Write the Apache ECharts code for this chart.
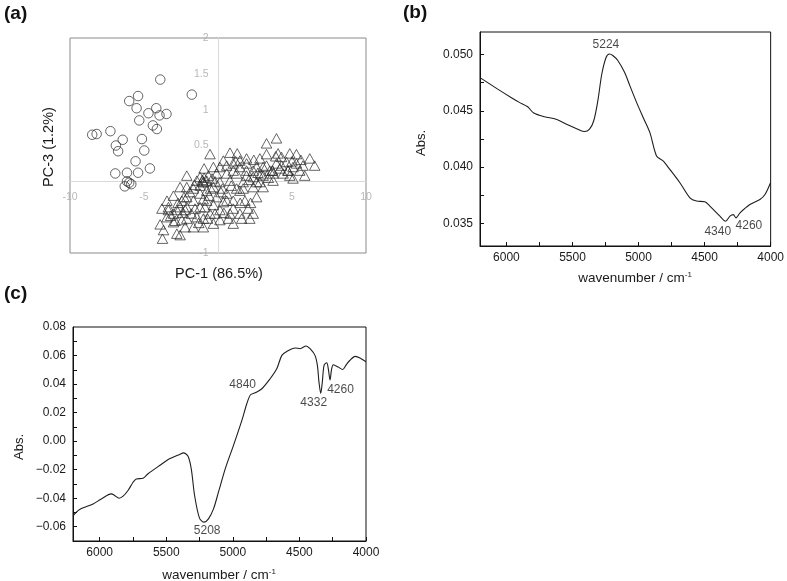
<!DOCTYPE html>
<html><head><meta charset="utf-8">
<script src="https://cdn.jsdelivr.net/npm/echarts@6/dist/echarts.min.js"></script>
<style>html,body{margin:0;padding:0;background:#fff}#c{width:787px;height:581px}</style>
</head><body><div id="c"></div>
<script>
// ---------- Panel (a): PCA scores ----------
const circleX = [-3.9,-1.77,-6.0,-5.4,-5.5,-4.7,-4.17,-3.95,-3.48,-5.32,-4.4,-4.13,-8.5,-8.2,-7.27,-6.44,-5.14,-6.9,-6.75,-4.98,-5.57,-4.6,-6.94,-6.15,-5.4,-6.15,-6.0,-5.86,-6.3];
const circleY = [1.42,1.21,1.12,1.19,1.02,0.95,1.02,0.92,0.94,0.85,0.78,0.73,0.65,0.66,0.70,0.58,0.59,0.50,0.42,0.43,0.28,0.18,0.11,0.12,0.12,0.0,-0.02,-0.04,-0.07];
const triX = [3.95,3.28,-0.54,0.81,1.30,1.93,2.42,3.28,4.06,4.29,4.85,5.30,6.20,6.53,5.74,5.30,3.68,4.73,5.86,5.07,4.40,3.05,2.61,1.93,1.48,1.03,0.59,0.13,-0.31,-0.94,-1.21,-2.11,-0.99,-0.76,-2.56,-3.01,-3.45,-3.79,-3.35,-3.91,-3.68,-3.75,-2.78,-2.56,-3.01,-2.44,-2.22,-1.66,-1.43,-0.99,-0.54,0.13,0.70,1.48,2.15,2.04,1.03,1.82,2.61,3.05,2.38,1.48,0.59,-0.09,-0.76,-1.21,-2.11,-2.11,-2.78,-3.01,-1.55,-0.31,0.36,1.03,1.26,0.81,0.13,-0.09,0.59,1.26,1.93,2.38,1.70,2.61,3.72,3.28,3.95,4.63,2.83,1.48,0.36,-1.21,-1.66,-2.11,-0.76,-0.31,-2.44,-2.56,-3.45,-2.22,-1.66,-0.99,-0.31,0.13,1.03,1.60,2.38,0.81,-0.88,-2.11,-1.21,-1.43,-0.65,1.93,1.03,2.38,3.05,4.18,5.52,5.07,4.85,3.72,2.83,-0.99,-0.94,-1.05,3.68,4.73,3.50,0.59,-2.30,-3.35,-0.50,0.20,-1.80,2.90,1.50,-1.00,-0.20,-2.90,-1.6,-0.4,0.9,2.1,3.4,4.3,5.6,-2.7,-1.9,-0.6,0.4,1.7,2.7,-3.2,-1.3,0.3,1.2,-0.2,2.2,3.9,5.0,-2.4,-0.7];
const triY = [0.60,0.53,0.38,0.40,0.39,0.32,0.30,0.38,0.39,0.34,0.39,0.38,0.32,0.22,0.22,0.25,0.15,0.15,0.08,0.04,0.11,0.08,0.20,0.25,0.20,0.25,0.22,0.20,0.20,0.18,0.06,0.08,-0.01,0.01,-0.08,-0.20,-0.27,-0.38,-0.40,-0.60,-0.68,-0.80,-0.73,-0.75,-0.57,-0.54,-0.40,-0.27,-0.50,-0.52,-0.45,-0.40,-0.52,-0.45,-0.52,-0.38,-0.27,-0.27,-0.22,-0.08,-0.08,-0.13,-0.17,-0.22,-0.27,-0.17,-0.22,-0.36,-0.40,-0.45,-0.38,-0.33,-0.29,-0.38,-0.10,0.01,-0.01,0.11,0.11,0.11,0.08,0.06,-0.01,-0.01,0.01,0.22,0.25,0.27,0.32,0.29,0.29,-0.06,-0.10,-0.08,-0.13,-0.08,-0.27,-0.36,-0.50,-0.64,-0.64,-0.64,-0.59,-0.54,-0.59,-0.52,-0.45,-0.45,-0.36,-0.52,-0.36,0.01,0.08,0.15,0.15,0.15,0.20,0.18,0.15,0.20,0.08,0.11,-0.01,-0.01,0.05,0.02,0.15,0.15,0.15,-0.27,-0.22,-0.36,-0.10,-0.15,-0.45,0.10,-0.30,-0.25,0.00,-0.55,-0.05,0.04,-0.06,0.02,0.05,0.22,0.30,-0.30,-0.15,-0.20,-0.44,-0.10,0.12,-0.48,-0.58,-0.10,0.28,-0.45,-0.30,0.35,0.28,-0.44,-0.52];
const aXLabels = [-10,-5,5,10];
const aYLabels = [2,1.5,1,0.5,-0.5,-1];

// ---------- Panel (b) spectrum ----------
const bWn  = [6200,6066,5965,5902,5839,5793,5712,5624,5536,5460,5409,5371,5339,5308,5278,5245,5220,5195,5157,5106,5066,5015,4965,4914,4864,4814,4763,4687,4611,4561,4498,4460,4384,4341,4308,4283,4263,4232,4157,4081,4043,4000];
const bAbs = [0.04795,0.04693,0.04619,0.04575,0.04536,0.04480,0.04447,0.04426,0.04376,0.04337,0.04316,0.04337,0.04412,0.0459,0.04827,0.04976,0.05005,0.04991,0.04947,0.04842,0.04724,0.04575,0.04441,0.04307,0.04100,0.04055,0.03980,0.03862,0.03728,0.03699,0.03692,0.03654,0.03565,0.0352,0.03565,0.03579,0.03550,0.03594,0.03668,0.03713,0.03757,0.03864];
const bAnnWn  = [5224,4340,4263];
const bAnnAbs = [0.05005,0.0352,0.0355];
const bAnnText = ['5224','4340','4260'];
const bXLabels = [6000,5500,5000,4500,4000];
const bXTicks = [6000,5750,5500,5250,5000,4750,4500,4250,4000];
const bYLabels = [0.035,0.040,0.045,0.050];
const bYTicks = [0.035,0.0375,0.040,0.0425,0.045,0.0475,0.050];

// ---------- Panel (c) spectrum ----------
const cWn  = [6200,6150,6049,5987,5912,5887,5854,5824,5787,5749,5725,5674,5637,5550,5475,5400,5370,5337,5312,5287,5250,5215,5183,5145,5108,5057,4995,4932,4895,4867,4832,4782,4720,4670,4632,4595,4532,4495,4450,4420,4383,4365,4353,4340,4328,4315,4295,4283,4270,4258,4245,4208,4176,4149,4122,4081,4040,4000];
const cAbs = [-0.0522,-0.0479,-0.0440,-0.0405,-0.0370,-0.0381,-0.0400,-0.0386,-0.0346,-0.0288,-0.0265,-0.0260,-0.0229,-0.0171,-0.0124,-0.0093,-0.0082,-0.0105,-0.0194,-0.0381,-0.0540,-0.0568,-0.0545,-0.0475,-0.0358,-0.0194,-0.0030,0.0145,0.0262,0.0325,0.0339,0.0367,0.0437,0.0507,0.0601,0.0629,0.0653,0.0648,0.0667,0.0648,0.0601,0.0531,0.0414,0.0335,0.0414,0.0531,0.0549,0.0507,0.0429,0.0507,0.0535,0.0519,0.0502,0.0535,0.0565,0.0594,0.0580,0.0556];
const cAnnWn  = [5215,4840,4340,4270];
const cAnnAbs = [-0.0568,0.0335,0.0335,0.0429];
const cAnnText = ['5208','4840','4332','4260'];
const cXLabels = [6000,5500,5000,4500,4000];
const cXTicks = [6000,5750,5500,5250,5000,4750,4500,4250,4000];
const cYLabels = [-0.06,-0.04,-0.02,0.00,0.02,0.04,0.06,0.08];
const cYTicks = [-0.06,-0.05,-0.04,-0.03,-0.02,-0.01,0,0.01,0.02,0.03,0.04,0.05,0.06,0.07];

// ---------- styling ----------
const bAnnOffset = [[-3,-9.5],[-8,10],[13,8]];
const cAnnOffset = [[3,8.5],[-11.5,-9],[-7,9.5],[10.5,9.5]];
const TF = '"Liberation Sans", Arial, sans-serif';
const zip = (a,b) => a.map((v,i)=>[v,b[i]]);
const minus = v => String(v).replace('-', '\u2212');

const chart = echarts.init(document.getElementById('c'), null, {renderer:'canvas'});

function specX(gi, labels, ticks){
  return {gridIndex:gi, type:'value', min:4000, max:6200, inverse:true,
    axisLine:{onZero:false, lineStyle:{color:'#111', width:1}},
    axisTick:{show:true, inside:true, length:4, customValues:ticks, lineStyle:{color:'#111'}},
    axisLabel:{customValues:labels, color:'#1a1a1a', fontSize:12, fontFamily:TF, margin:6, formatter:v=>String(v)},
    splitLine:{show:false}};
}
function specY(gi, min, max, labels, ticks, fmt){
  return {gridIndex:gi, type:'value', min:min, max:max,
    axisLine:{onZero:false, lineStyle:{color:'#111', width:1}},
    axisTick:{show:true, inside:true, length:4, customValues:ticks, lineStyle:{color:'#111'}},
    axisLabel:{customValues:labels, color:'#1a1a1a', fontSize:12, fontFamily:TF, margin:7, formatter:fmt},
    splitLine:{show:false}};
}
function ann(xi, wn, ab, txt, offs){
  return {type:'scatter', xAxisIndex:xi, yAxisIndex:xi, symbolSize:1, silent:true,
    itemStyle:{color:'transparent'}, z:5,
    data: wn.map((w,i)=>({value:[w,ab[i]], label:{offset:offs[i]}})),
    label:{show:true, position:'inside', color:'#1a1a1a', fontSize:12, fontFamily:TF,
      formatter:p=>txt[p.dataIndex]}};
}
// Excel-style axis labels placed next to the zero lines of panel (a)
const aLabelStyle = {show:true, color:'#a6a6a6', fontSize:10.5, fontFamily:TF};

const option = {
  animation:false,
  backgroundColor:'#fff',
  grid:[
    {left:70, top:38, width:296, height:215, show:true, borderColor:'#8a8a8a', borderWidth:1, backgroundColor:'transparent'},
    {left:480, top:32, width:291, height:214, show:true, borderColor:'#111', borderWidth:1, backgroundColor:'transparent'},
    {left:73, top:327, width:293, height:214, show:true, borderColor:'#111', borderWidth:1, backgroundColor:'transparent'}
  ],
  xAxis:[
    {gridIndex:0, type:'value', min:-10, max:10,
      axisLine:{onZero:true, lineStyle:{color:'#d9d9d9', width:1}},
      axisTick:{show:false}, axisLabel:{show:false}, splitLine:{show:false}},
    specX(1, bXLabels, bXTicks),
    specX(2, cXLabels, cXTicks)
  ],
  yAxis:[
    {gridIndex:0, type:'value', min:-1, max:2,
      axisLine:{onZero:true, lineStyle:{color:'#d9d9d9', width:1}},
      axisTick:{show:false}, axisLabel:{show:false}, splitLine:{show:false}},
    specY(1, 0.033, 0.052, bYLabels, bYTicks, v=>v.toFixed(3)),
    specY(2, -0.07, 0.08, cYLabels, cYTicks, v=>minus(v.toFixed(2)))
  ],
  series:[
    {type:'scatter', xAxisIndex:0, yAxisIndex:0, symbolSize:1, silent:true, z:1,
      itemStyle:{color:'transparent'},
      data: aXLabels.map(v=>[v,0]),
      label:Object.assign({position:'bottom', distance:10, formatter:p=>String(p.value[0])}, aLabelStyle)},
    {type:'scatter', xAxisIndex:0, yAxisIndex:0, symbolSize:1, silent:true, z:1,
      itemStyle:{color:'transparent'},
      data: aYLabels.map(v=>[0,v]),
      label:Object.assign({position:'left', distance:9, formatter:p=>String(p.value[1])}, aLabelStyle)},
    {type:'scatter', xAxisIndex:0, yAxisIndex:0, symbol:'triangle', symbolSize:[10.5,9.5], z:3,
      itemStyle:{color:'transparent', borderColor:'#2a2a2a', borderWidth:0.9},
      data: zip(triX, triY)},
    {type:'scatter', xAxisIndex:0, yAxisIndex:0, symbol:'circle', symbolSize:9.5, z:3,
      itemStyle:{color:'transparent', borderColor:'#2a2a2a', borderWidth:0.9},
      data: zip(circleX, circleY)},
    {type:'line', xAxisIndex:1, yAxisIndex:1, showSymbol:false, smooth:0.3,
      lineStyle:{color:'#1e1e1e', width:1.1}, data: zip(bWn, bAbs)},
    {type:'line', xAxisIndex:2, yAxisIndex:2, showSymbol:false, smooth:0.3,
      lineStyle:{color:'#1e1e1e', width:1.1}, data: zip(cWn, cAbs)},
    ann(1, bAnnWn, bAnnAbs, bAnnText, bAnnOffset),
    ann(2, cAnnWn, cAnnAbs, cAnnText, cAnnOffset)
  ],
  graphic:[
    {type:'text', x:4, y:4, style:{text:'(a)', fill:'#111', font:'bold 19px '+TF}},
    {type:'text', x:403, y:3, style:{text:'(b)', fill:'#111', font:'bold 19px '+TF}},
    {type:'text', x:4, y:284, style:{text:'(c)', fill:'#111', font:'bold 19px '+TF}},
    {type:'text', x:49, y:147, rotation:Math.PI/2, style:{text:'PC-3 (1.2%)', fill:'#1a1a1a', font:'14.5px '+TF, align:'center', verticalAlign:'middle'}},
    {type:'text', x:219, y:274, style:{text:'PC-1 (86.5%)', fill:'#1a1a1a', font:'14.5px '+TF, align:'center', verticalAlign:'middle'}},
    {type:'text', x:421, y:143, rotation:Math.PI/2, style:{text:'Abs.', fill:'#1a1a1a', font:'13px '+TF, align:'center', verticalAlign:'middle'}},
    {type:'text', x:19, y:447, rotation:Math.PI/2, style:{text:'Abs.', fill:'#1a1a1a', font:'13px '+TF, align:'center', verticalAlign:'middle'}},
    {type:'text', x:635, y:278, style:{text:'{a|wavenumber / cm}{s|-1}', align:'center', verticalAlign:'middle',
      rich:{a:{fontSize:13.5, fontFamily:TF, fill:'#1a1a1a'}, s:{fontSize:8, fontFamily:TF, fill:'#1a1a1a', verticalAlign:'top'}}}},
    {type:'text', x:219, y:575, style:{text:'{a|wavenumber / cm}{s|-1}', align:'center', verticalAlign:'middle',
      rich:{a:{fontSize:13.5, fontFamily:TF, fill:'#1a1a1a'}, s:{fontSize:8, fontFamily:TF, fill:'#1a1a1a', verticalAlign:'top'}}}}
  ]
};
chart.setOption(option);
</script>
</body></html>
